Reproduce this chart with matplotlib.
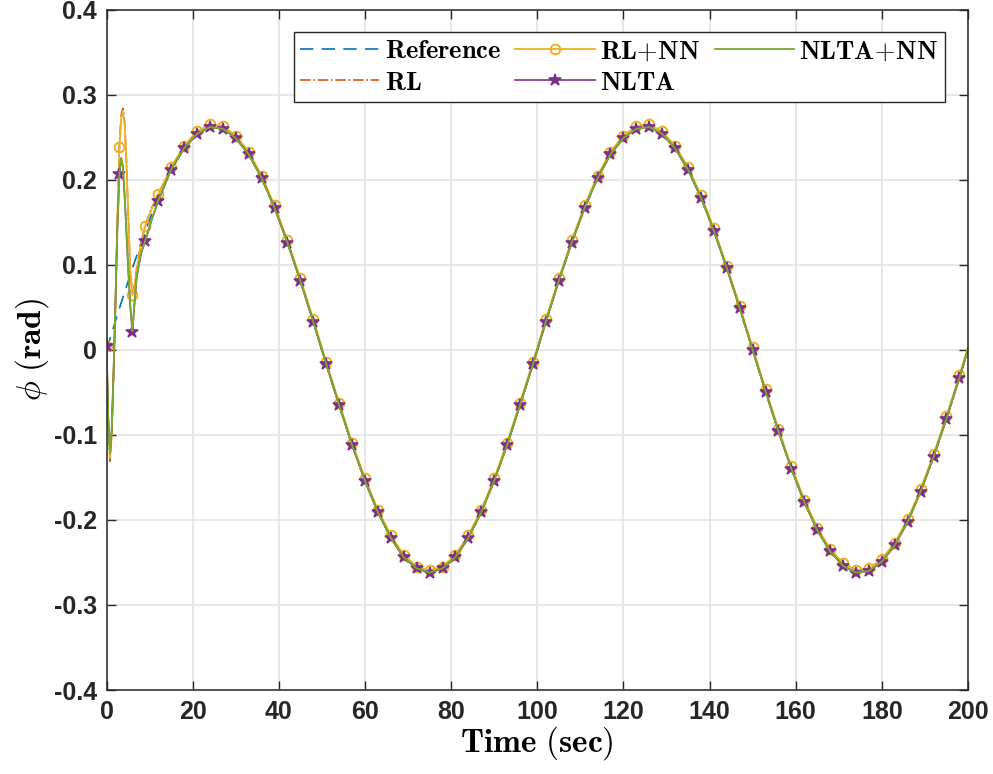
import numpy as np
import matplotlib.pyplot as plt

plt.rcParams['mathtext.fontset'] = 'cm'

# reference trajectory, sampled every 3 s (plus end point)
t_ref = list(range(0, 199, 3)) + [200]
phi_ref = [0.000, 0.049, 0.096, 0.140, 0.179, 0.212, 0.237, 0.254, 0.262, 0.260,
           0.249, 0.230, 0.202, 0.167, 0.126, 0.081, 0.033, -0.017, -0.065, -0.112,
           -0.154, -0.191, -0.221, -0.244, -0.257, -0.262, -0.257, -0.244, -0.221, -0.191,
           -0.154, -0.112, -0.065, -0.017, 0.033, 0.081, 0.126, 0.167, 0.202, 0.230,
           0.249, 0.260, 0.262, 0.254, 0.237, 0.212, 0.179, 0.140, 0.096, 0.049,
           0.000, -0.049, -0.096, -0.140, -0.179, -0.212, -0.237, -0.254, -0.262, -0.260,
           -0.249, -0.230, -0.202, -0.167, -0.126, -0.081, -0.033, 0.000]

# controllers: transient part (0-12 s) then tracking part (15-200 s)
t_trans = [0, 0.4, 0.8, 1.2, 1.6, 2.0, 2.5, 3.0, 3.4, 3.8, 4.2, 4.6, 5.0, 5.5,
           6.0, 6.5, 7.0, 8.0, 9.0, 10.5, 12.0]
t_track = list(range(15, 199, 3)) + [200]

phi_rl_trans = [0.004, -0.088, -0.131, -0.102, -0.036, 0.042, 0.152, 0.243, 0.276, 0.284,
                0.268, 0.225, 0.165, 0.095, 0.066, 0.076, 0.096, 0.126, 0.147, 0.167, 0.184]
phi_rlnn_trans = [0.004, -0.085, -0.127, -0.099, -0.034, 0.040, 0.150, 0.238, 0.272, 0.281,
                  0.265, 0.222, 0.162, 0.093, 0.064, 0.074, 0.094, 0.124, 0.146, 0.166, 0.183]
phi_nlta_trans = [0.004, -0.080, -0.120, -0.094, -0.030, 0.040, 0.140, 0.207, 0.225, 0.215,
                  0.180, 0.140, 0.098, 0.052, 0.021, 0.055, 0.085, 0.113, 0.128, 0.153, 0.175]
phi_nltann_trans = [0.004, -0.082, -0.122, -0.095, -0.031, 0.041, 0.141, 0.208, 0.226, 0.216,
                    0.181, 0.141, 0.099, 0.053, 0.022, 0.056, 0.086, 0.114, 0.129, 0.154, 0.176]

# RL+NN runs a little above the reference once tracking
phi_rlnn_track = [0.215, 0.240, 0.257, 0.265, 0.263, 0.252, 0.233, 0.205, 0.170, 0.129,
                  0.084, 0.036, -0.014, -0.062, -0.109, -0.151, -0.188, -0.218, -0.241, -0.255,
                  -0.259, -0.255, -0.241, -0.218, -0.188, -0.151, -0.109, -0.062, -0.014, 0.036,
                  0.084, 0.129, 0.170, 0.205, 0.233, 0.252, 0.263, 0.265, 0.257, 0.240,
                  0.215, 0.182, 0.143, 0.099, 0.052, 0.003, -0.046, -0.093, -0.137, -0.176,
                  -0.209, -0.234, -0.251, -0.259, -0.257, -0.246, -0.227, -0.199, -0.164, -0.123,
                  -0.078, -0.030, 0.003]
# the others sit on the reference after 15 s
phi_rl_track = phi_ref[5:]
phi_nlta_track = phi_ref[5:]
phi_nltann_track = phi_ref[5:]

t_ctrl = np.array(t_trans + t_track)
marks = [i for i, v in enumerate(t_ctrl) if v % 3 == 0 and v <= 198]

fig = plt.figure(figsize=(9.93, 7.74), dpi=100)
ax = fig.add_axes([0.1073, 0.1085, 0.8675, 0.879])

ax.plot(t_ref, phi_ref, '--', color='#0072BD', lw=1.2, dashes=(8, 5),
        label=r'$\mathbf{Reference}$')
ax.plot(t_ctrl, phi_rl_trans + phi_rl_track, '-.', color='#D95319', lw=1.2,
        label=r'$\mathbf{RL}$')
ax.plot(t_ctrl, phi_rlnn_trans + phi_rlnn_track, '-', color='#EDB120', lw=1.3,
        marker='o', ms=7, mfc='none', mew=1.4, markevery=marks,
        label=r'$\mathbf{RL\!+\!NN}$')
ax.plot(t_ctrl, phi_nlta_trans + phi_nlta_track, '-', color='#7E2F8E', lw=1.2,
        marker='*', ms=9, mew=1.2, markevery=marks,
        label=r'$\mathbf{NLTA}$')
ax.plot(t_ctrl, phi_nltann_trans + phi_nltann_track, '-', color='#77AC30', lw=1.3,
        label=r'$\mathbf{NLTA\!+\!NN}$')

ax.set_xlim(0, 200)
ax.set_ylim(-0.4, 0.4)
ax.set_xticks(range(0, 201, 20))
ax.set_yticks(np.arange(-0.4, 0.41, 0.1))
ax.set_yticklabels(['-0.4', '-0.3', '-0.2', '-0.1', '0', '0.1', '0.2', '0.3', '0.4'])

ax.grid(True, color='#e3e3e3', lw=1.2)
ax.set_axisbelow(True)
ax.tick_params(direction='in', length=6.5, width=1.0, top=True, right=True,
               colors='#262626', labelsize=18, pad=7)
for lab in ax.get_xticklabels() + ax.get_yticklabels():
    lab.set_fontfamily('Liberation Sans')
    lab.set_fontweight('bold')
for s in ax.spines.values():
    s.set_color('#262626')
    s.set_linewidth(1.1)

ax.set_xlabel(r'$\mathbf{Time\ (sec)}$', fontsize=24, labelpad=0)
ax.set_ylabel(r'$\phi\ \mathbf{(rad)}$', fontsize=24, labelpad=2)

leg = ax.legend(ncol=3, loc='upper right', bbox_to_anchor=(0.9733, 0.9676),
                borderaxespad=0, fontsize=19, handlelength=3.0, handletextpad=0.2,
                columnspacing=0.55, labelspacing=0.2, borderpad=0.25, fancybox=False,
                framealpha=1, edgecolor='#262626')
leg.get_frame().set_linewidth(1.0)

fig.savefig('out.png', dpi=100)
